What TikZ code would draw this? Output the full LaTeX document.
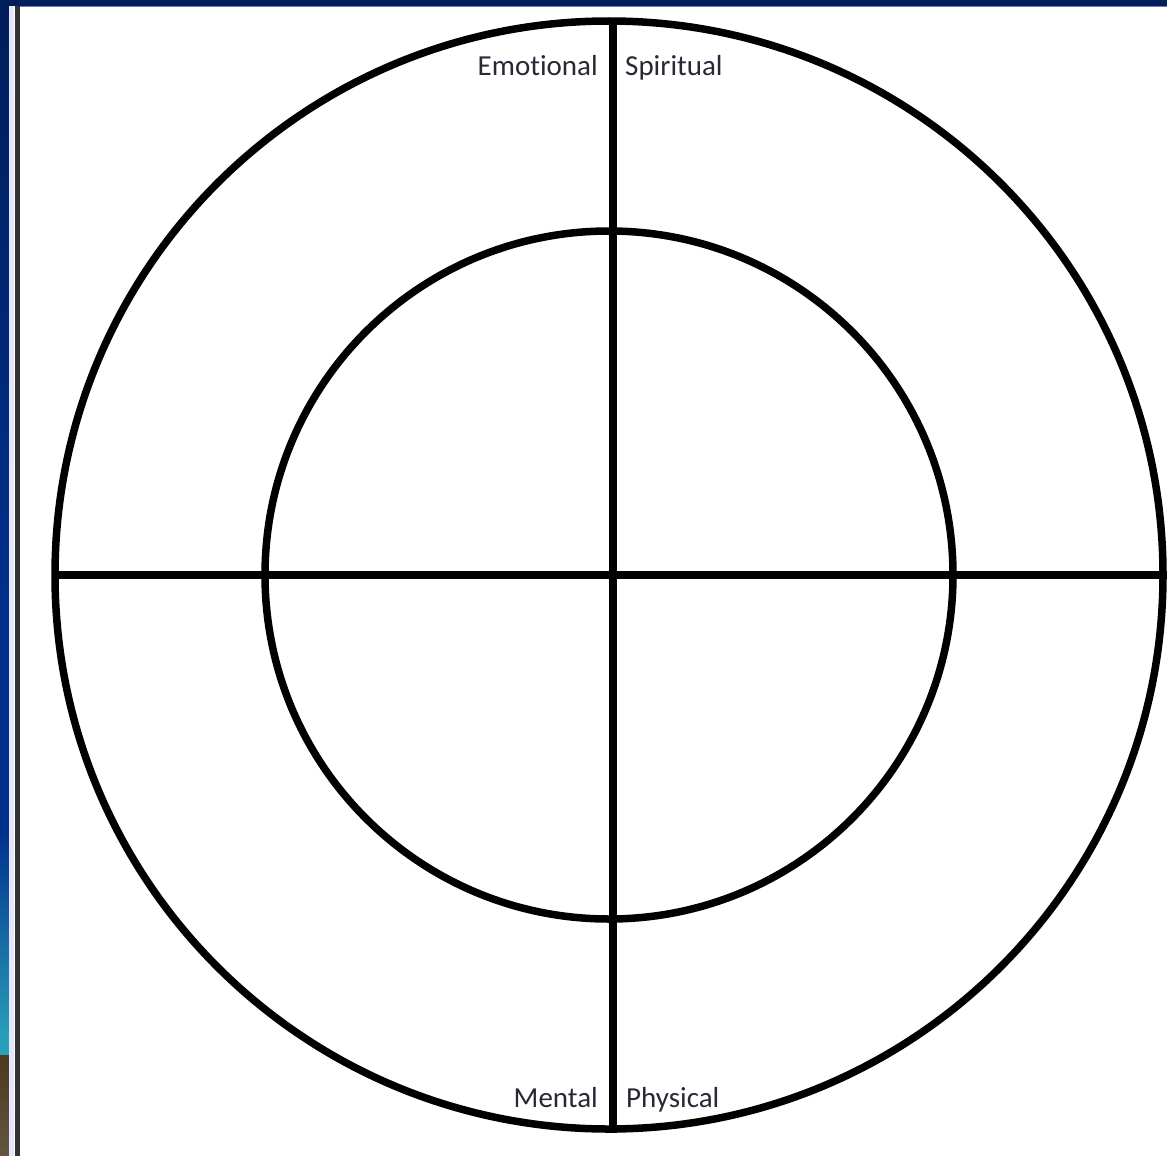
\documentclass[tikz,border=0pt]{standalone}
\usepackage{fontspec}
\setmainfont{Carlito}[Ligatures={NoCommon}]
\definecolor{navy}{RGB}{0,30,90}
\definecolor{blueA}{RGB}{0,48,140}
\definecolor{teal}{RGB}{40,160,185}
\definecolor{brownA}{RGB}{75,58,28}
\definecolor{brownB}{RGB}{100,85,65}
\definecolor{txt}{RGB}{40,40,55}
\begin{document}
\begin{tikzpicture}[x=1pt,y=-1pt,
  ring/.style={draw=black,line width=7.5pt},
  axis/.style={draw=black,line width=8.5pt},
  lbl/.style={font=\fontsize{29}{32}\selectfont,text=txt,inner sep=0pt}]
\useasboundingbox (0,0) rectangle (1167,1156);
\fill[white] (0,0) rectangle (1167,1156);
% top band
\fill[navy] (0,0) rectangle (1167,6);
\fill[blueA!60!white] (20,6) rectangle (1167,7);
% left strip
\shade[top color=navy,bottom color=blueA] (0,0) rectangle (9,600);
\fill[blueA] (0,600) rectangle (9,830);
\shade[top color=blueA,bottom color=teal] (0,830) rectangle (9,1040);
\fill[teal] (0,1040) rectangle (9,1055);
\shade[top color=brownA,bottom color=brownB] (0,1055) rectangle (9,1156);
\fill[blue!10!white] (9,6) rectangle (14,1156);
\fill[black!80] (15,6) rectangle (20,1156);
% circles
\coordinate (c) at (609,575);
\draw[ring] (c) circle[radius=554];
\draw[ring] (c) circle[radius=344];
\coordinate (top) at (613,18);
\coordinate (bot) at (613,1133);
\coordinate (lft) at (55,575);
\coordinate (rgt) at (1167,575);
\draw[axis] (top) -- (bot);
\draw[axis] (lft) -- (rgt);
% labels
\node[lbl,anchor=base east] (emo) at (598,76) {Emotional};
\node[lbl,anchor=base west] (spi) at (625,76) {Spiritual};
\node[lbl,anchor=base east] (men) at (598,1107) {Mental};
\node[lbl,anchor=base west] (phy) at (626,1107) {Physical};
\end{tikzpicture}
\end{document}
